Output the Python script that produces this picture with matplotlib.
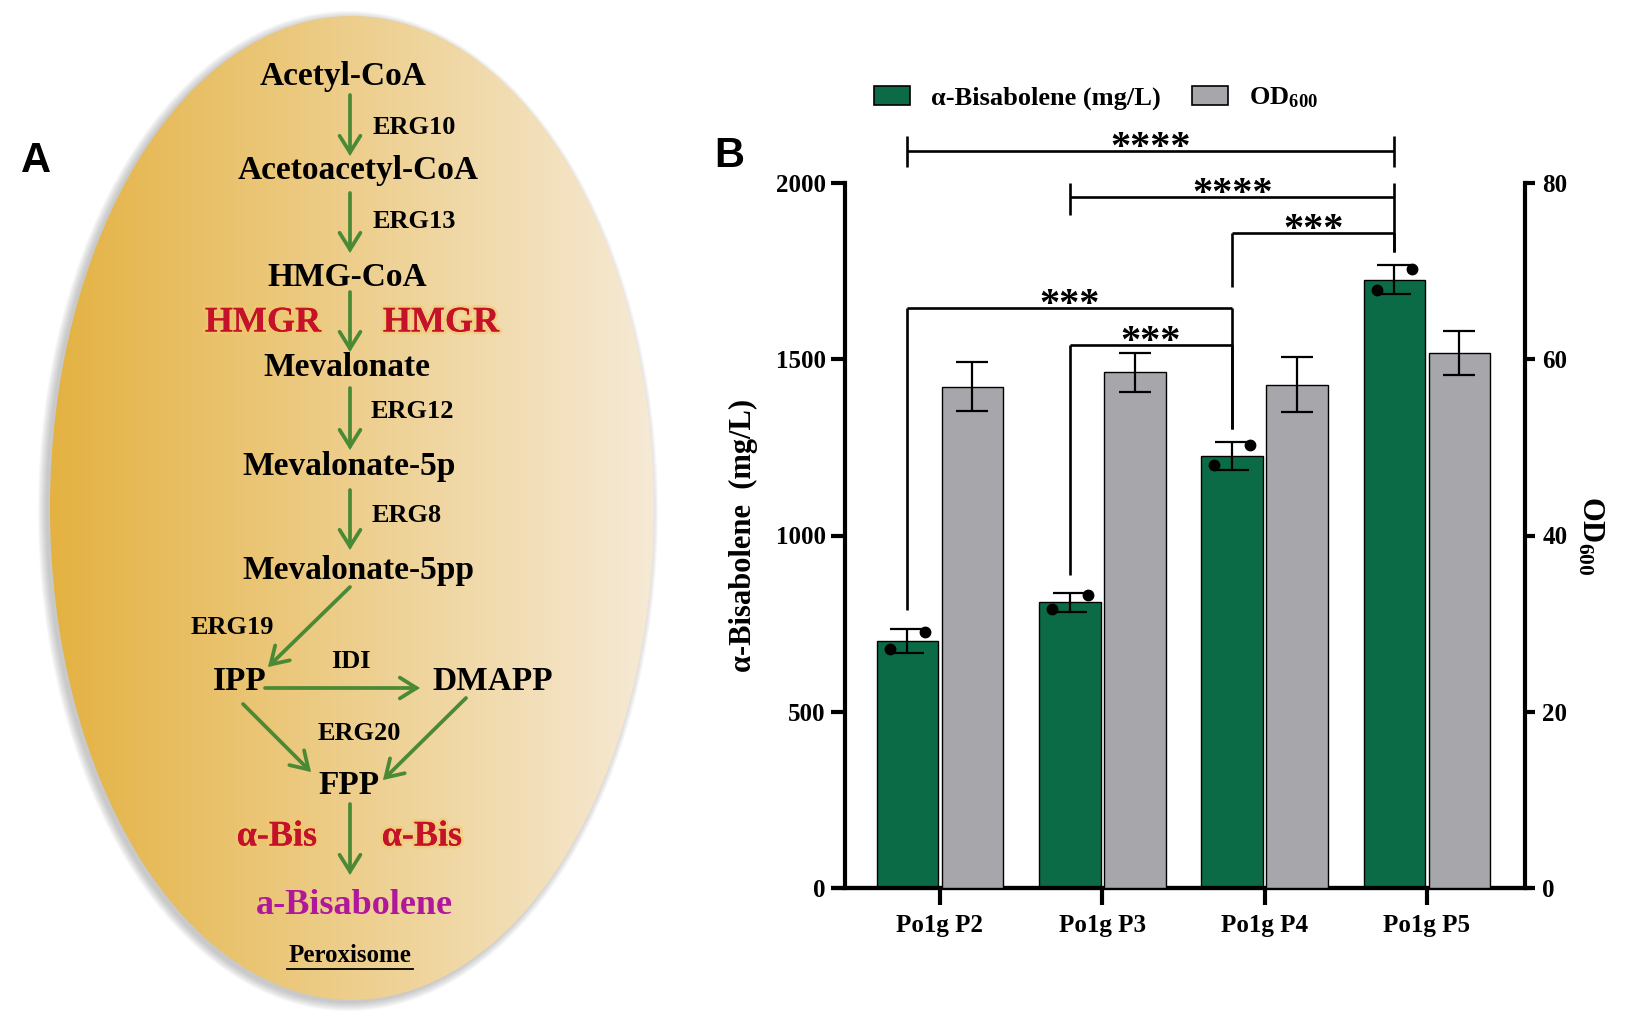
import numpy as np
import matplotlib
matplotlib.use("Agg")
import matplotlib.pyplot as plt
from matplotlib.patches import Ellipse, FancyArrowPatch, Patch
import matplotlib.patheffects as pe

plt.rcParams['font.family'] = ['Liberation Serif', 'DejaVu Serif']
plt.rcParams['font.weight'] = 'bold'
plt.rcParams['axes.labelweight'] = 'bold'
plt.rcParams['mathtext.fontset'] = 'custom'
plt.rcParams['mathtext.rm'] = 'Liberation Serif:bold'
plt.rcParams['mathtext.it'] = 'Liberation Serif:bold:italic'
plt.rcParams['mathtext.bf'] = 'Liberation Serif:bold'
plt.rcParams['mathtext.default'] = 'regular'

# ---------------- data (panel B) ----------------
categories = ['Po1g P2', 'Po1g P3', 'Po1g P4', 'Po1g P5']
bisabolene = [701, 810, 1226, 1726]
bisabolene_err = [33, 26, 39, 41]
bis_points_hi = [726, 830, 1257, 1756]
bis_points_lo = [678, 791, 1200, 1696]
od600 = [56.9, 58.5, 57.1, 60.7]
od600_err = [2.8, 2.2, 3.1, 2.5]
left_ticks = [0, 500, 1000, 1500, 2000]
right_ticks = [0, 20, 40, 60, 80]
# (left group, right group, bar level, top of verticals, left drop, right drop, label)
brackets = [
    (0, 3, 2092, 2133, 2045, 2045, '****'),
    (1, 3, 1959, 2000, 1909, 1805, '****'),
    (2, 3, 1859, 1859, 1706, 1805, '***'),
    (0, 2, 1645, 1645, 788, 1301, '***'),
    (1, 2, 1540, 1540, 888, 1301, '***'),
]

# ---------------- pathway (panel A) ----------------
metabolites = ['Acetyl-CoA', 'Acetoacetyl-CoA', 'HMG-CoA', 'Mevalonate',
               'Mevalonate-5p', 'Mevalonate-5pp', 'IPP', 'DMAPP', 'FPP']
metabolite_xy = [(343, 77), (358, 170), (347, 277), (347, 368), (349, 467),
                 (358, 570), (240, 682), (493, 682), (349, 785)]
enzymes = ['ERG10', 'ERG13', 'ERG12', 'ERG8', 'ERG19', 'IDI', 'ERG20']
enzyme_xy = [(414, 127), (414, 222), (412, 412), (407, 515), (232, 628),
             (351, 662), (359, 734)]
red_labels = ['HMGR', 'HMGR', 'α-Bis', 'α-Bis']
red_xy = [(263, 323), (441, 323), (277, 837), (422, 837)]
arrows = [((350, 95), (350, 156)), ((350, 193), (350, 253)),
          ((350, 292), (350, 352)), ((350, 388), (350, 450)),
          ((350, 490), (350, 550)), ((350, 587), (268, 667)),
          ((265, 688), (420, 688)), ((243, 704), (311, 772)),
          ((466, 698), (383, 780)), ((350, 804), (350, 875))]

W, H = 1635, 1031
fig = plt.figure(figsize=(W / 100, H / 100), dpi=100)

# ================= Panel A =================
axA = fig.add_axes([0, 0, 700 / W, 1])
axA.set_axis_off()
cx, cy, ew, eh = 352, 508, 604, 984
for k in range(9):
    sh = Ellipse((cx - 4, cy + 3), ew + 2 * k, eh + 2 * k, facecolor='#7a7a7a',
                 edgecolor='none', alpha=0.05, zorder=0)
    axA.add_patch(sh)
grad = np.linspace(0, 1, 300).reshape(1, -1, 1)
c_left = np.array([228, 178, 66]) / 255
c_right = np.array([246, 234, 214]) / 255
img = c_left + (c_right - c_left) * grad
im = axA.imshow(img, extent=(cx - ew / 2, cx + ew / 2, cy + eh / 2, cy - eh / 2),
                aspect='auto', zorder=1, interpolation='bilinear')
ell = Ellipse((cx, cy), ew, eh, facecolor='none', edgecolor='none')
axA.add_patch(ell)
im.set_clip_path(ell)
axA.set_xlim(0, 700)
axA.set_ylim(H, 0)

arrow_green = '#4b8a35'
for (p0, p1) in arrows:
    a = FancyArrowPatch(p0, p1, arrowstyle='->,head_length=12,head_width=7.5',
                        mutation_scale=1, lw=2.7, color=arrow_green,
                        shrinkA=0, shrinkB=0, zorder=3, joinstyle='miter')
    axA.add_patch(a)

for name, (x, y) in zip(metabolites, metabolite_xy):
    axA.text(x, y, name, ha='center', va='center', fontsize=24,
             fontweight='bold', color='black', zorder=4)
for name, (x, y) in zip(enzymes, enzyme_xy):
    axA.text(x, y, name, ha='center', va='center', fontsize=19,
             fontweight='bold', color='black', zorder=4)
for name, (x, y) in zip(red_labels, red_xy):
    axA.text(x, y, name, ha='center', va='center', fontsize=26,
             fontweight='bold', color='#c4122a', zorder=4,
             path_effects=[pe.withStroke(linewidth=4, foreground='#f2c86a', alpha=0.6),
                           pe.Normal()])
axA.text(354, 905, 'a-Bisabolene', ha='center', va='center', fontsize=26,
         fontweight='bold', color='#b0189c', zorder=4)
axA.text(350, 956, 'Peroxisome', ha='center', va='center', fontsize=18,
         fontweight='bold', color='black', zorder=4)
axA.plot([287, 413], [969, 969], color='black', lw=1.3, zorder=4)
axA.text(36, 161, 'A', ha='center', va='center', fontsize=30,
         fontweight='bold', family='Liberation Sans', color='black')

# ================= Panel B =================
x_left, x_right, y_bot, y_top = 845, 1525, 888, 183
ax = fig.add_axes([x_left / W, 1 - y_bot / H, (x_right - x_left) / W, (y_bot - y_top) / H])
ax2 = ax.twinx()
xpos = np.arange(len(categories))
off, bw = 0.2, 0.38
green = '#0c6b47'
grey = '#a6a6ab'

ax.bar(xpos - off, bisabolene, width=bw, color=green, edgecolor='black',
       linewidth=1.0, zorder=2)
ax.errorbar(xpos - off, bisabolene, yerr=bisabolene_err, fmt='none', ecolor='black',
            elinewidth=1.6, capsize=12.5, capthick=1.6, zorder=3)
ax.plot(xpos - off + 0.11, bis_points_hi, 'o', color='black', ms=7.5, zorder=4, clip_on=False)
ax.plot(xpos - off - 0.11, bis_points_lo, 'o', color='black', ms=7.5, zorder=4, clip_on=False)

ax2.bar(xpos + off, od600, width=bw, color=grey, edgecolor='black',
        linewidth=1.0, zorder=2)
ax2.errorbar(xpos + off, od600, yerr=od600_err, fmt='none', ecolor='black',
             elinewidth=1.6, capsize=11.5, capthick=1.6, zorder=3)

ax.set_xlim(-0.585, 3.604)
ax2.set_xlim(-0.585, 3.604)
ax.set_ylim(0, 2000)
ax2.set_ylim(0, 80)
ax.set_yticks(left_ticks)
ax2.set_yticks(right_ticks)
ax.set_xticks(xpos)
ax.set_xticklabels(categories)

for s in ['top', 'right']:
    ax.spines[s].set_visible(False)
for s in ['top', 'left', 'bottom']:
    ax2.spines[s].set_visible(False)
ax.spines['left'].set_linewidth(3)
ax.spines['bottom'].set_linewidth(3)
ax2.spines['right'].set_linewidth(3)
ax.plot([-0.021, 1.011], [0, 0], transform=ax.transAxes, color='black', lw=3,
        clip_on=False, solid_capstyle='butt', zorder=5)

ax.tick_params(axis='y', direction='out', length=10, width=3, labelsize=18, pad=4)
ax.tick_params(axis='x', direction='out', length=12, width=3, labelsize=18, pad=7)
ax2.tick_params(axis='y', direction='out', length=7.5, width=3, labelsize=18, pad=5)
for lab in ax.get_xticklabels() + ax.get_yticklabels() + ax2.get_yticklabels():
    lab.set_fontweight('bold')

ax.set_ylabel('α-Bisabolene  (mg/L)', fontsize=22, fontweight='bold')
ax.yaxis.set_label_coords(-0.128, 0.5)
ax2.set_ylabel('OD$_{600}$', fontsize=22, fontweight='bold', rotation=-90)
ax2.yaxis.set_label_coords(1.118, 0.5)

for (i, j, yh, ytop, yl, yr, lab) in brackets:
    xi, xj = i - off, j - off
    ax.plot([xi, xj], [yh, yh], color='black', lw=1.9, clip_on=False, zorder=5,
            solid_capstyle='butt')
    ax.plot([xi, xi], [ytop, yl], color='black', lw=1.9, clip_on=False, zorder=5,
            solid_capstyle='butt')
    ax.plot([xj, xj], [ytop, yr], color='black', lw=1.9, clip_on=False, zorder=5,
            solid_capstyle='butt')
    ax.annotate(lab, ((xi + xj) / 2, yh), xytext=(0, -5), textcoords='offset points',
                ha='center', va='baseline', fontsize=29, fontweight='bold',
                annotation_clip=False, zorder=6)

handles = [Patch(facecolor=green, edgecolor='black', linewidth=1.2),
           Patch(facecolor=grey, edgecolor='black', linewidth=1.2)]
fig.legend(handles, ['α-Bisabolene (mg/L)', 'OD$_{600}$'], loc='center left',
           bbox_to_anchor=(874 / W, 1 - 98 / H), ncol=2, frameon=False,
           fontsize=19, handlelength=1.35, handleheight=0.7, handletextpad=0.8,
           columnspacing=1.2, borderpad=0, borderaxespad=0)

fig.text(729 / W, 1 - 156 / H, 'B', ha='center', va='center', fontsize=30,
         fontweight='bold', family='Liberation Sans')

fig.savefig('out.png', dpi=100)
